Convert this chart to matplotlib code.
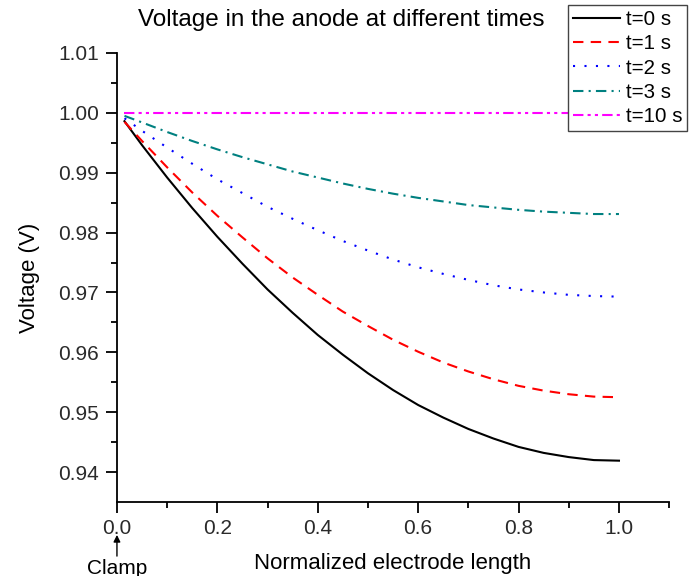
import matplotlib
matplotlib.use("Agg")
import matplotlib.pyplot as plt

plt.rcParams['font.family'] = ['Liberation Sans', 'DejaVu Sans']

# -------------------- Data --------------------
x = [0.015, 0.05, 0.1, 0.15, 0.2, 0.25, 0.3, 0.35, 0.4, 0.45, 0.5,
     0.55, 0.6, 0.65, 0.7, 0.75, 0.8, 0.85, 0.9, 0.95, 1.0]

v_t0 = [0.9986, 0.9946, 0.9892, 0.9841, 0.9793, 0.9748, 0.9705, 0.9666, 0.9629, 0.9596, 0.9565,
        0.9537, 0.9512, 0.9491, 0.9472, 0.9456, 0.9442, 0.9432, 0.9425, 0.9420, 0.9419]
v_t1 = [0.9985, 0.9953, 0.9909, 0.9867, 0.9828, 0.9792, 0.9757, 0.9725, 0.9696, 0.9668, 0.9644,
        0.9621, 0.9601, 0.9583, 0.9568, 0.9555, 0.9544, 0.9536, 0.9530, 0.9526, 0.9525]
v_t2 = [0.9991, 0.9970, 0.9942, 0.9915, 0.9889, 0.9866, 0.9843, 0.9823, 0.9804, 0.9786, 0.9770,
        0.9755, 0.9742, 0.9731, 0.9721, 0.9712, 0.9705, 0.9700, 0.9696, 0.9694, 0.9693]
v_t3 = [0.9995, 0.9984, 0.9968, 0.9953, 0.9939, 0.9926, 0.9914, 0.9902, 0.9892, 0.9882, 0.9873,
        0.9865, 0.9858, 0.9852, 0.9846, 0.9842, 0.9838, 0.9835, 0.9833, 0.9831, 0.9831]
v_t10 = [1.0] * len(x)

labels = ['t=0 s', 't=1 s', 't=2 s', 't=3 s', 't=10 s']
x_ticks = [0.0, 0.2, 0.4, 0.6, 0.8, 1.0]
y_ticks = [0.94, 0.95, 0.96, 0.97, 0.98, 0.99, 1.00, 1.01]
# ----------------------------------------------

fig = plt.figure(figsize=(6.92, 5.76), dpi=100)
ax = fig.add_axes([0.169, 0.1285, 0.798, 0.7795])

styles = [
    dict(color='black', linestyle='-'),
    dict(color='#ff0000', linestyle=(0, (5, 3.5))),
    dict(color='#0000ff', linestyle=(0, (1, 4.5))),
    dict(color='#008080', linestyle=(0, (5, 2.5, 1, 2.5))),
    dict(color='#ff00ff', linestyle=(0, (5, 2, 1.5, 2, 1.5, 2))),
]
series = [v_t0, v_t1, v_t2, v_t3, v_t10]
for v, lab, st in zip(series, labels, styles):
    ax.plot(x, v, linewidth=1.5, label=lab, **st)

ax.set_xlim(0, 1.1)
ax.set_ylim(0.935, 1.01)
ax.set_xticks(x_ticks)
ax.set_xticklabels(['%.1f' % t for t in x_ticks])
ax.set_xticks([0.1, 0.3, 0.5, 0.7, 0.9, 1.1], minor=True)
ax.set_yticks(y_ticks)
ax.set_yticklabels(['%.2f' % t for t in y_ticks])
ax.set_yticks([0.945, 0.955, 0.965, 0.975, 0.985, 0.995, 1.005], minor=True)

for s in ['top', 'right']:
    ax.spines[s].set_visible(False)
for s in ['left', 'bottom']:
    ax.spines[s].set_linewidth(1.3)

ax.tick_params(which='major', direction='out', length=8, width=1.3,
               labelsize=15, labelcolor='#2a2a2a', pad=4)
ax.tick_params(axis='y', which='major', pad=5)
ax.tick_params(which='minor', direction='out', length=4, width=1.3)

ax.set_ylabel('Voltage (V)', fontsize=16)
ax.yaxis.set_label_coords(-0.14, 0.5)
ax.set_xlabel('Normalized electrode length', fontsize=16)
ax.xaxis.set_label_coords(0.5, -0.114)

fig.text(0.493, 0.966, 'Voltage in the anode at different times',
         fontsize=17.5, ha='center', va='center')

# Clamp marker
ax.annotate('Clamp', xy=(0.0, 0.9295), xytext=(0.0, 0.9255),
            xycoords='data', textcoords='data', annotation_clip=False,
            ha='center', va='top', fontsize=15,
            arrowprops=dict(arrowstyle='-|>', color='black', lw=1.0,
                            mutation_scale=10, shrinkA=0, shrinkB=0))

leg = ax.legend(loc='upper right', bbox_to_anchor=(0.993, 0.991),
                bbox_transform=fig.transFigure, fontsize=14.8,
                frameon=True, fancybox=False, framealpha=1,
                edgecolor='#444444', handlelength=2.3, handletextpad=0.25,
                labelspacing=0.25, borderpad=0.25, borderaxespad=0)
leg.get_frame().set_linewidth(1.0)

fig.savefig('out.png', dpi=100)
